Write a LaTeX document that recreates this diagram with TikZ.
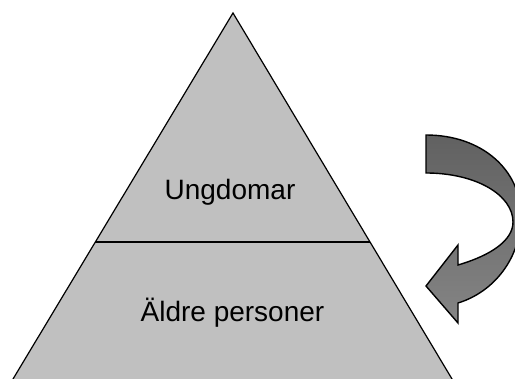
\documentclass[tikz,border=0pt]{standalone}
\usepackage{fontspec}
\setmainfont{Liberation Sans}
\usetikzlibrary{calc}
\definecolor{pyr}{RGB}{192,192,192}
\tikzset{
  pyramid/.style={fill=pyr, draw=black, line width=1.2pt, line join=miter},
  divider/.style={draw=black, line width=1.2pt},
  label/.style={font=\fontsize{28}{32}\selectfont, anchor=base, inner sep=0pt},
  bentarrow/.style={draw=black, line width=1.4pt, line join=miter,
    top color=black!62, bottom color=black!48}
}
\begin{document}
\begin{tikzpicture}[x=1pt,y=-1pt]
\useasboundingbox (0,0) rectangle (515,379);
\clip (0,0) rectangle (515,379);
\coordinate (apex) at (233,13);
\coordinate (bl) at (10,384);
\coordinate (br) at (455,384);
\path[pyramid] (apex) -- (bl) -- (br) -- cycle;
\coordinate (dl) at ($(apex)!0.6175!(bl)$);
\coordinate (dr) at ($(apex)!0.6175!(br)$);
\draw[divider] (dl) -- (dr);
\node[label] (young) at (230,200) {Ungdomar};
\node[label] (old) at (232.5,321.5) {Äldre personer};
\path[bentarrow] (426,135) .. controls (482,135) and (521,170) .. (521,216)
  .. controls (521,258) and (494,292) .. (458,303)
  -- (458,323) -- (426,286) -- (458,245) -- (458,265)
  .. controls (492,255) and (513,240) .. (513,222)
  .. controls (513,195) and (476,173) .. (426,173) -- cycle;
\end{tikzpicture}
\end{document}
